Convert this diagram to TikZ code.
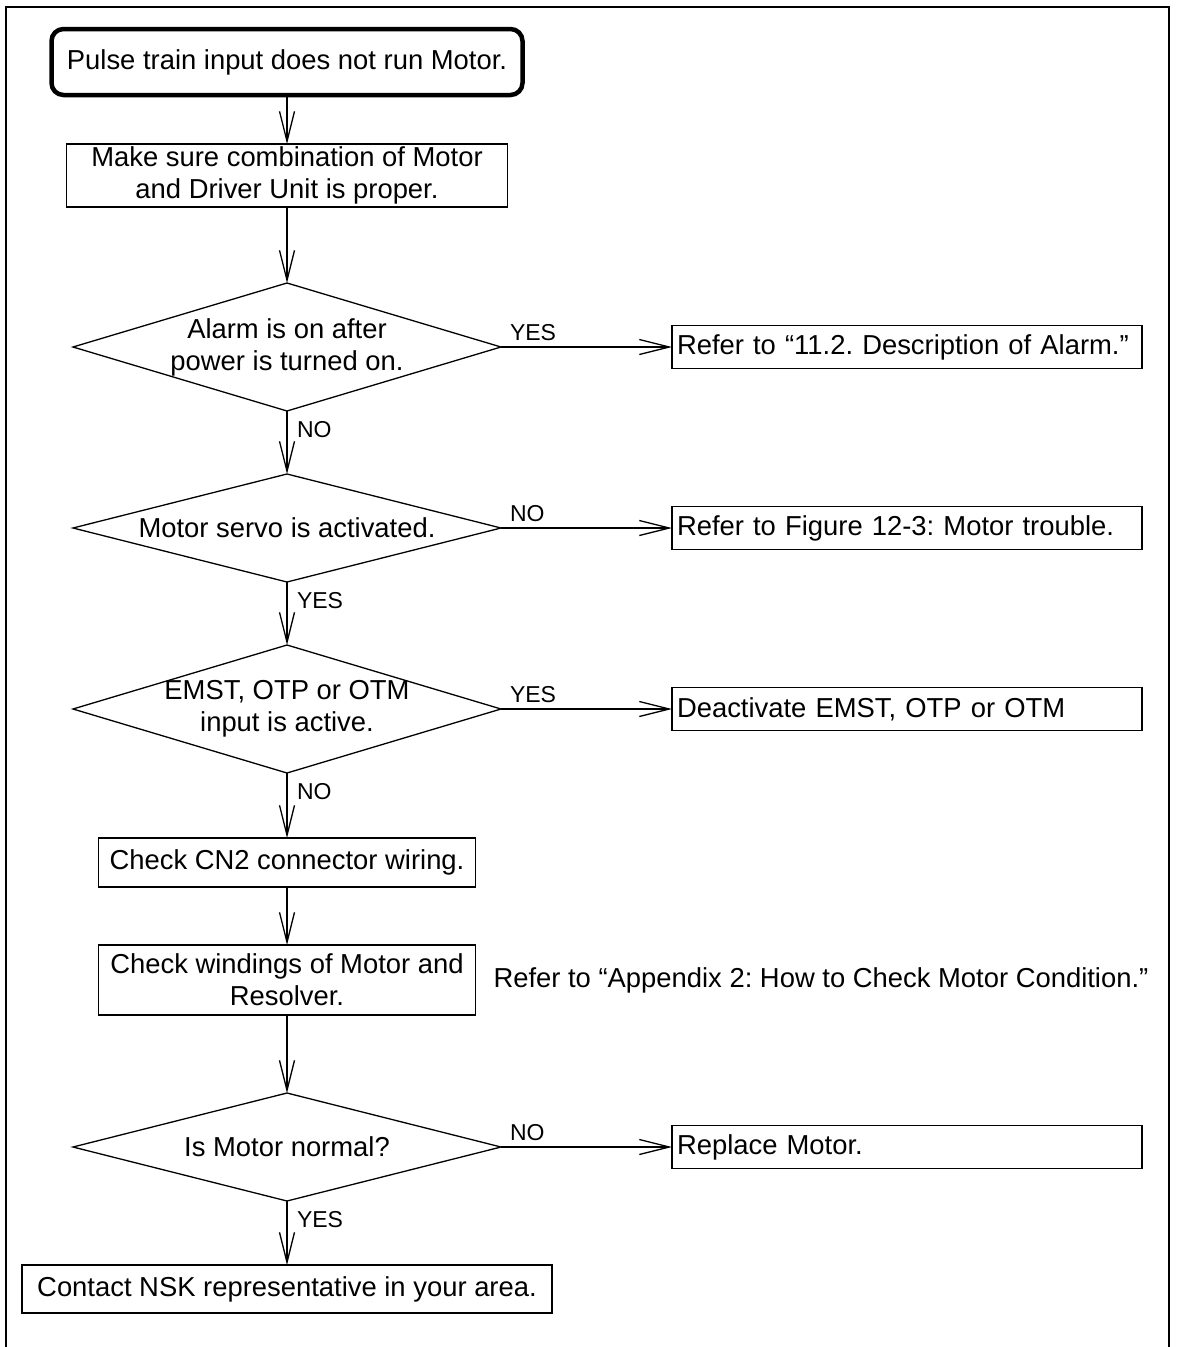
\documentclass[tikz,border=0pt]{standalone}
\usepackage{fontspec}
\setmainfont{Liberation Sans}
\usetikzlibrary{arrows.meta,positioning,shapes.geometric}
\frenchspacing

\begin{document}
\begin{tikzpicture}[
  x=1pt, y=-1pt,
  font=\fontsize{27.4}{32}\selectfont,
  line width=1.3pt,
  every node/.append style={outer sep=0pt},
  startbox/.style={
    draw,
    line width=4.5pt,
    rounded corners=12pt,
    minimum width=471pt,
    minimum height=66pt,
    inner sep=0pt
  },
  box/.style={draw, align=center, inner sep=0pt},
  check/.style={draw, diamond, minimum width=428pt, inner sep=0pt},
  result/.style={
    draw,
    align=left,
    text width=460pt,
    inner xsep=5pt,
    inner ysep=0pt,
    minimum height=43pt
  },
  answer/.style={font=\fontsize{23}{26}\selectfont, inner sep=0pt},
  arrow/.style={-{Straight Barb[length=30pt, width=15pt]}}
]
  \useasboundingbox (0,0) rectangle (1178,1347);
  \draw[line width=2.5pt] (6,1347) -- (6,7) -- (1169,7) -- (1169,1347);

  % main column
  \node[startbox] (start) at (287,62) {Pulse train input does not run Motor.};
  \node[box, below=49pt of start, minimum width=441pt, minimum height=63pt] (combo)
    {Make sure combination of Motor\\and Driver Unit is proper.};
  \node[check, below=76pt of combo, minimum height=128pt,
    label={[align=center]center:Alarm is on after\\power is turned on.}] (alarm) {};
  \node[check, below=63pt of alarm, minimum height=108pt,
    label={center:Motor servo is activated.}] (servo) {};
  \node[check, below=63pt of servo, minimum height=128pt,
    label={[align=center]center:{EMST, OTP or OTM\\input is active.}}] (emst) {};
  \node[box, below=65pt of emst, minimum width=377pt, minimum height=49pt] (cn2)
    {Check CN2 connector wiring.};
  \node[box, below=58pt of cn2, minimum width=377pt, minimum height=70pt] (wind)
    {Check windings of Motor and\\Resolver.};
  \node[check, below=78pt of wind, minimum height=108pt,
    label={center:Is Motor normal?}] (normal) {};
  \node[box, below=64pt of normal, minimum width=530pt, minimum height=48pt] (contact)
    {Contact NSK representative in your area.};

  % right column
  \node[result, right=171pt of alarm] (alarmref) {Refer to “11.2. Description of Alarm.”};
  \node[result, right=171pt of servo] (servoref) {Refer to Figure 12-3: Motor trouble.};
  \node[result, right=171pt of emst] (deact) {Deactivate EMST, OTP or OTM};
  \node[result, right=171pt of normal] (replace) {Replace Motor.};
  \node[inner sep=0pt, right=18pt of wind] (note)
    {Refer to “Appendix 2: How to Check Motor Condition.”};

  \draw[arrow] (start) -- (combo);
  \draw[arrow] (combo) -- (alarm);
  \draw[arrow] (alarm) -- node[answer, pos=0, anchor=north west, xshift=10pt, yshift=-10pt] {NO} (servo);
  \draw[arrow] (servo) -- node[answer, pos=0, anchor=north west, xshift=10pt, yshift=-10pt] {YES} (emst);
  \draw[arrow] (emst) -- node[answer, pos=0, anchor=north west, xshift=10pt, yshift=-10pt] {NO} (cn2);
  \draw[arrow] (cn2) -- (wind);
  \draw[arrow] (wind) -- (normal);
  \draw[arrow] (normal) -- node[answer, pos=0, anchor=north west, xshift=10pt, yshift=-10pt] {YES} (contact);

  \draw[arrow] (alarm) -- node[answer, pos=0, anchor=south west, xshift=9pt, yshift=6pt] {YES} (alarmref);
  \draw[arrow] (servo) -- node[answer, pos=0, anchor=south west, xshift=9pt, yshift=6pt] {NO} (servoref);
  \draw[arrow] (emst) -- node[answer, pos=0, anchor=south west, xshift=9pt, yshift=6pt] {YES} (deact);
  \draw[arrow] (normal) -- node[answer, pos=0, anchor=south west, xshift=9pt, yshift=6pt] {NO} (replace);
\end{tikzpicture}
\end{document}
